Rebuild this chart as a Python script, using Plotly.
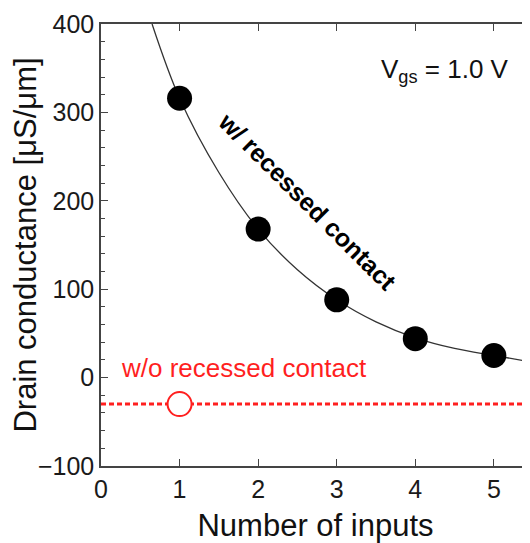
import plotly.graph_objects as go

# Measured data (with recessed contact)
inputs = [1, 2, 3, 4, 5]
conductance = [316, 168, 88, 44, 25]

# Fitted trend curve
curve_x = [0.65, 1.0, 1.5, 2.0, 2.5, 3.0, 3.5, 4.0, 4.5, 5.0, 5.46]
curve_y = [400, 316, 232, 168, 122, 88, 63, 45, 33, 25, 18]

# Without recessed contact
wo_x = [1]
wo_y = [-30]
wo_line_x = [0, 5.46]
wo_line_y = [-30, -30]

xticks = [0, 1, 2, 3, 4, 5]
yticks = [-100, 0, 100, 200, 300, 400]

FONT = "Liberation Sans, Arial, sans-serif"
RED = "#ff1f1f"

fig = go.Figure()
fig.add_trace(go.Scatter(x=wo_line_x, y=wo_line_y, mode="lines",
                         line=dict(color=RED, width=3, dash="5px,3px"),
                         hoverinfo="skip", showlegend=False))
fig.add_trace(go.Scatter(x=curve_x, y=curve_y, mode="lines",
                         line=dict(color="#333333", width=1.3, shape="spline"),
                         showlegend=False))
fig.add_trace(go.Scatter(x=inputs, y=conductance, mode="markers",
                         marker=dict(color="black", size=25),
                         showlegend=False))
fig.add_trace(go.Scatter(x=wo_x, y=wo_y, mode="markers",
                         marker=dict(color="white", size=24,
                                     line=dict(color=RED, width=2)),
                         showlegend=False))

# plot area in page pixels: left 101, right 530, top 24, bottom 458
def px(xp, yp):
    return (xp - 101) / 429, (458 - yp) / 434

ax, ay = px(445, 70)
fig.add_annotation(xref="paper", yref="paper", x=ax, y=ay,
                   text="V<sub>gs</sub> = 1.0 V", showarrow=False,
                   font=dict(family=FONT, size=26, color="#111"),
                   xanchor="center", yanchor="middle")
ax, ay = px(244, 362)
fig.add_annotation(xref="paper", yref="paper", x=ax, y=ay,
                   text="w/o recessed contact", showarrow=False,
                   font=dict(family=FONT, size=26, color=RED),
                   xanchor="center", yanchor="middle")
ax, ay = px(307, 198)
fig.add_annotation(xref="paper", yref="paper", x=ax, y=ay,
                   text="<b>w/ recessed contact</b>", showarrow=False, textangle=45,
                   font=dict(family=FONT, size=25, color="black"),
                   xanchor="center", yanchor="middle")

axis_common = dict(showgrid=False, zeroline=False, showline=True, linecolor="#444",
                   linewidth=1.5, mirror="ticks", ticks="inside", tickcolor="#444",
                   tickwidth=1.3, ticklen=7, automargin=False,
                   tickfont=dict(family=FONT, size=25, color="#1a1a1a"))

fig.update_xaxes(range=[0, 5.46], tickvals=xticks, **axis_common,
                 title=dict(text="Number of inputs", standoff=32,
                            font=dict(family=FONT, size=31, color="#111")))
fig.update_yaxes(range=[-100, 400], tickvals=yticks, **axis_common,
                 minor=dict(dtick=20, ticks="inside", ticklen=4, tickcolor="#444", tickwidth=1.2),
                 title=dict(text="Drain conductance [μS/μm]", standoff=5,
                            font=dict(family=FONT, size=31, color="#111")))

# page body has an 8px default margin, so the figure is sized to fit the window
fig.update_layout(width=522, height=535, margin=dict(l=93, r=0, t=16, b=77),
                  plot_bgcolor="white", paper_bgcolor="white", showlegend=False)

fig.write_html("out.html")
